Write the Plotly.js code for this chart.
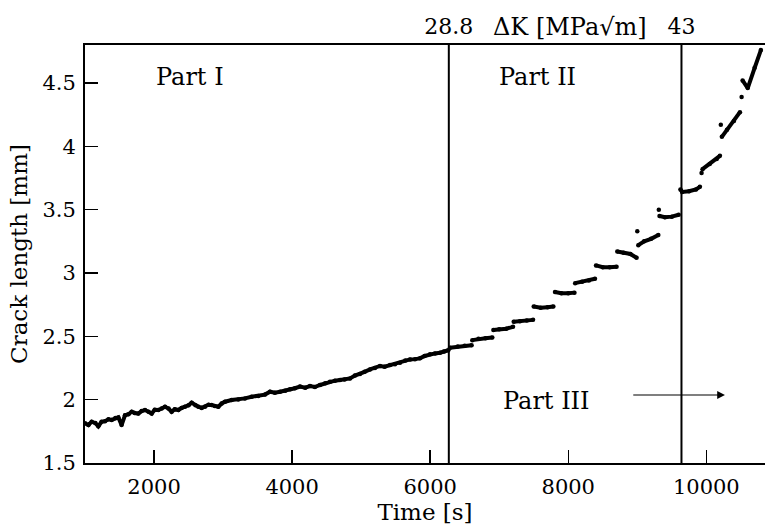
<!DOCTYPE html>
<html>
<head>
<meta charset="utf-8">
<script src="https://cdn.plot.ly/plotly-3.0.1.min.js"></script>
<style>html,body{margin:0;padding:0;background:#fff;}#chart{width:765px;height:527px;}</style>
</head>
<body>
<div id="chart"></div>
<script>
// Time [s] and crack length [mm]; null separates the step segments
const timeS = [
  1000,1050,1097,1150,1193,1240,1290,1340,1386,1440,1483,1530,1579,1630,1676,1720,1772,1820,1869,1920,1966,2010,2062,2110,2159,2210,2255,2300,2352,2400,2448,2500,2545,2600,2642,2690,2738,2790,2835,2880,2931,2980,3028,3124,3221,3317,3414,3510,3607,3680,3750,3825,3900,3970,4040,4114,4190,4259,4330,4404,4480,4549,4620,4694,4760,4839,4910,4983,5050,5128,5200,5273,5340,5418,5490,5563,5640,5708,5780,5852,5920,5997,6070,6142,6200,6263,
  null,6287,6400,6500,6600,
  null,6610,6700,6800,6900,
  null,6915,7000,7100,7200,
  null,7210,7300,7400,7490,
  null,7500,7600,7700,7784,
  null,7808,7900,8000,8090,
  null,8100,8200,8300,8387,
  null,8402,8500,8600,8700,
  null,8710,8800,8900,8990,
  null,9000,
  null,9015,9100,9200,9305,
  null,9312,
  null,9322,9400,9500,9600,
  null,9625,9650,9750,9850,9907,
  null,9931,
  null,9945,10050,10150,10197,
  null,10210,
  null,10225,10300,10400,10487,
  null,10511,
  null,10525,10600,10700,10790
];
const crackMm = [
  1.813,1.800,1.826,1.815,1.79,1.825,1.83,1.845,1.84,1.855,1.86,1.80,1.876,1.885,1.905,1.895,1.89,1.91,1.918,1.905,1.89,1.92,1.918,1.93,1.944,1.93,1.905,1.925,1.918,1.935,1.944,1.955,1.976,1.955,1.944,1.935,1.944,1.96,1.957,1.95,1.944,1.97,1.984,1.997,2.002,2.010,2.023,2.028,2.040,2.063,2.055,2.063,2.07,2.082,2.09,2.103,2.095,2.108,2.10,2.116,2.13,2.142,2.15,2.155,2.16,2.168,2.19,2.203,2.22,2.239,2.25,2.266,2.26,2.274,2.28,2.292,2.31,2.318,2.32,2.326,2.345,2.358,2.365,2.371,2.38,2.39,
  null,2.41,2.42,2.425,2.43,
  null,2.47,2.48,2.485,2.49,
  null,2.55,2.555,2.56,2.575,
  null,2.615,2.62,2.625,2.63,
  null,2.735,2.725,2.73,2.735,
  null,2.85,2.84,2.84,2.845,
  null,2.92,2.93,2.94,2.955,
  null,3.06,3.045,3.045,3.05,
  null,3.17,3.16,3.15,3.12,
  null,3.33,
  null,3.22,3.25,3.27,3.30,
  null,3.50,
  null,3.45,3.44,3.445,3.46,
  null,3.66,3.64,3.645,3.66,3.68,
  null,3.79,
  null,3.82,3.86,3.90,3.925,
  null,4.17,
  null,4.075,4.13,4.20,4.27,
  null,4.39,
  null,4.52,4.46,4.62,4.76
];
const xTickVals = [2000,4000,6000,8000,10000];
const xTickText = ['2000','4000','6000','8000','10000'];
const yTickVals = [1.5,2,2.5,3,3.5,4,4.5];
const yTickText = ['1.5','2','2.5','3','3.5','4','4.5'];
const dkTimes = [6270, 9640];
const dkLabels = ['28.8','43'];
const partLabels = ['Part I','Part II','Part III'];
const partTimes = [2520, 7560, 7680];
const partLengths = [4.55, 4.55, 1.99];

const font = {family: 'DejaVu Serif, serif', size: 21, color: '#000'};
const titleFont = {family: 'DejaVu Serif, serif', size: 23, color: '#000'};
const noteFont = {family: 'DejaVu Serif, serif', size: 24, color: '#000'};

const trace = {
  x: timeS, y: crackMm, type: 'scatter', mode: 'lines+markers',
  line: {color: '#000', width: 4}, marker: {color: '#000', size: 4.5},
  connectgaps: false, showlegend: false, hoverinfo: 'x+y'
};
const topTrace = {x: dkTimes, y: [null, null], xaxis: 'x2', yaxis: 'y', type: 'scatter', mode: 'markers', showlegend: false, hoverinfo: 'skip'};

const layout = {
  width: 765, height: 527,
  margin: {l: 85, r: 0, t: 45, b: 64},
  paper_bgcolor: '#fff', plot_bgcolor: '#fff',
  font: font,
  xaxis: {
    range: [1000, 10850], tickvals: xTickVals, ticktext: xTickText,
    ticks: 'inside', ticklen: 13, tickwidth: 1.5, tickcolor: '#000',
    showline: true, linewidth: 2, linecolor: '#000', showgrid: false, zeroline: false,
    ticklabelstandoff: 4,
    title: {text: 'Time [s]', font: titleFont, standoff: 2}
  },
  xaxis2: {
    overlaying: 'x', side: 'top', range: [1000, 10850], matches: 'x',
    tickvals: dkTimes, ticktext: dkLabels, ticks: '',
    tickfont: {family: 'DejaVu Serif, serif', size: 22, color: '#000'},
    showline: true, linewidth: 2, linecolor: '#000', showgrid: false, zeroline: false,
    ticklabelstandoff: 0
  },
  yaxis: {
    range: [1.5, 4.8], tickvals: yTickVals, ticktext: yTickText,
    ticks: 'inside', ticklen: 13, tickwidth: 1.5, tickcolor: '#000',
    showline: true, linewidth: 2, linecolor: '#000', showgrid: false, zeroline: false,
    ticklabelstandoff: 3,
    title: {text: 'Crack length [mm]', font: titleFont, standoff: 8}
  },
  shapes: dkTimes.map(t => ({type: 'line', xref: 'x', yref: 'paper', x0: t, x1: t, y0: 0, y1: 1, line: {color: '#000', width: 2}})),
  annotations: partLabels.map((s, i) => ({x: partTimes[i], y: partLengths[i], xref: 'x', yref: 'y', text: s, showarrow: false, font: noteFont}))
    .concat([
      {x: 8030, y: 1.043, xref: 'x', yref: 'paper', xanchor: 'center', yanchor: 'middle', text: 'ΔK [MPa√m]', showarrow: false, font: noteFont},
      {x: 10270, y: 2.037, ax: 8920, ay: 2.037, xref: 'x', yref: 'y', axref: 'x', ayref: 'y', text: '', showarrow: true, arrowhead: 2, arrowsize: 1.3, arrowwidth: 1.2, arrowcolor: '#000'}
    ])
};

Plotly.newPlot('chart', [trace, topTrace], layout, {staticPlot: true, displayModeBar: false});
</script>
</body>
</html>
